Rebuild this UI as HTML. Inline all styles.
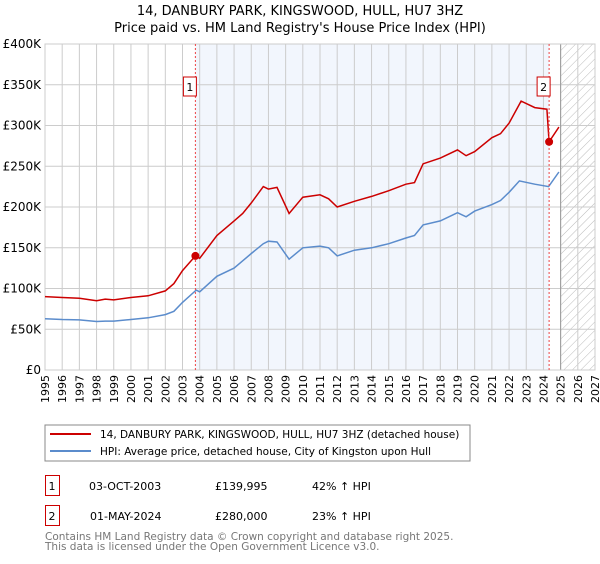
<!DOCTYPE html>
<html><head><meta charset="utf-8"><style>
body{margin:0;background:#fff;font-family:"DejaVu Sans","Liberation Sans",sans-serif;}
svg text{font-family:"DejaVu Sans","Liberation Sans",sans-serif;}
</style></head><body>
<svg id="c" width="600" height="560" xmlns="http://www.w3.org/2000/svg">
<defs><pattern id="hatch" width="6" height="6" patternUnits="userSpaceOnUse" patternTransform="rotate(45)"><line x1="0" y1="0" x2="0" y2="6" stroke="#bbb" stroke-width="1"/></pattern></defs>
<text x="300" y="15" text-anchor="middle" font-size="13">14, DANBURY PARK, KINGSWOOD, HULL, HU7 3HZ</text>
<text x="300" y="32" text-anchor="middle" font-size="13">Price paid vs. HM Land Registry's House Price Index (HPI)</text>
<g id="plot"></g>
<rect x="45" y="425" width="425" height="36" fill="#fff" stroke="#888"/>
<line x1="50" y1="434" x2="91" y2="434" stroke="#cc0000" stroke-width="2"/>
<text x="100" y="438" font-size="10.5">14, DANBURY PARK, KINGSWOOD, HULL, HU7 3HZ (detached house)</text>
<line x1="50" y1="451" x2="91" y2="451" stroke="#5b8ccc" stroke-width="2"/>
<text x="100" y="455" font-size="10.5">HPI: Average price, detached house, City of Kingston upon Hull</text>
<g>
<rect x="45.5" y="475.5" width="14" height="20" fill="none" stroke="#cc0000"/>
<text x="52" y="490" font-size="11" text-anchor="middle">1</text>
<text x="89" y="490" font-size="11">03-OCT-2003</text>
<text x="215" y="490" font-size="11">£139,995</text>
<text x="312" y="490" font-size="11">42% ↑ HPI</text></g>
<g>
<rect x="45.5" y="505.5" width="14" height="20" fill="none" stroke="#cc0000"/>
<text x="52" y="520" font-size="11" text-anchor="middle">2</text>
<text x="90" y="520" font-size="11">01-MAY-2024</text>
<text x="215" y="520" font-size="11">£280,000</text>
<text x="312" y="520" font-size="11">23% ↑ HPI</text></g>
<text x="45" y="540" font-size="10.5" fill="#777">Contains HM Land Registry data © Crown copyright and database right 2025.</text>
<text x="45" y="550" font-size="10.5" fill="#777">This data is licensed under the Open Government Licence v3.0.</text>
</svg>
<script>
const yTicks=[0,50,100,150,200,250,300,350,400];
const yTickLabels=["£0","£50K","£100K","£150K","£200K","£250K","£300K","£350K","£400K"];
const xYears=[1995,1996,1997,1998,1999,2000,2001,2002,2003,2004,2005,2006,2007,2008,2009,2010,2011,2012,2013,2014,2015,2016,2017,2018,2019,2020,2021,2022,2023,2024,2025,2026,2027];
const hpiT=[1995,1996,1997,1998,1998.5,1999,2000,2001,2002,2002.5,2003,2003.8,2004,2005,2006,2006.5,2007,2007.7,2008,2008.5,2009.2,2010,2011,2011.5,2012,2013,2014,2015,2016,2016.5,2017,2018,2019,2019.5,2020,2021,2021.5,2022,2022.6,2023.5,2024.3,2024.9];
const hpiV=[63,62,61.5,59.5,60,60,62,64,68,72,83,98,96,115,125,134,143,155,158,157,136,150,152,150,140,147,150,155,162,165,178,183,193,188,195,203,208,218,232,228,225,243];
const ppT=[1995,1996,1997,1998,1998.5,1999,2000,2001,2002,2002.5,2003,2003.75,2004,2005,2006,2006.5,2007,2007.7,2008,2008.5,2009.2,2010,2011,2011.5,2012,2013,2014,2015,2016,2016.5,2017,2018,2019,2019.5,2020,2021,2021.5,2022,2022.7,2023.5,2024.2,2024.33,2024.9];
const ppV=[90,89,88,85,87,86,89,91,97,106,122,140,137,165,183,192,205,225,222,224,192,212,215,210,200,207,213,220,228,230,253,260,270,263,268,285,290,303,330,322,320,280,298];
const sales=[[2003.75,140,"1"],[2024.33,280,"2"]];
const X0=45,X1=595,Y0=370,Y1=44;
const xs=t=>X0+(t-1995)*(X1-X0)/32;
const ys=v=>Y0-v*(Y0-Y1)/400;
const NS="http://www.w3.org/2000/svg";
const g=document.getElementById('plot');
function mk(tag,a,txt){const e=document.createElementNS(NS,tag);for(const k in a)e.setAttribute(k,a[k]);if(txt!==undefined)e.textContent=txt;g.appendChild(e);return e;}
let e;
e=mk('rect',{x:xs(2003.75),y:Y1,width:xs(2024.33)-xs(2003.75),height:Y0-Y1,fill:'#f2f6fd'});


e=mk('rect',{x:xs(2025),y:Y1,width:X1-xs(2025),height:Y0-Y1,fill:'url(#hatch)'});


xYears.forEach(yr=>{e=mk('line',{x1:xs(yr),x2:xs(yr),y1:Y1,y2:Y0,stroke:'#ccc'});


const t=mk('text',{x:0,y:0,'font-size':11,'text-anchor':'end',transform:`translate(${xs(yr)+4},${Y0+5}) rotate(-90)`},String(yr));

});
yTicks.forEach((v,i)=>{e=mk('line',{x1:X0,x2:X1,y1:ys(v),y2:ys(v),stroke:'#ccc'});


const t=mk('text',{x:X0-4,y:ys(v)+4,'font-size':12,'text-anchor':'end'},yTickLabels[i]);

});
e=mk('line',{x1:xs(2025),x2:xs(2025),y1:Y1,y2:Y0,stroke:'#999'});


e=mk('rect',{x:X0,y:Y1,width:X1-X0,height:Y0-Y1,fill:'none',stroke:'#ccc'});


const pts=(T,V)=>T.map((t,i)=>xs(t).toFixed(1)+','+ys(V[i]).toFixed(1)).join(' ');
e=mk('polyline',{points:pts(hpiT,hpiV),fill:'none',stroke:'#5b8ccc','stroke-width':1.5});


e=mk('polyline',{points:pts(ppT,ppV),fill:'none',stroke:'#cc0000','stroke-width':1.5});


sales.forEach(s=>{
e=mk('line',{x1:xs(s[0]),x2:xs(s[0]),y1:Y1,y2:Y0,stroke:'#e44','stroke-dasharray':'2,2'});


e=mk('circle',{cx:xs(s[0]),cy:ys(s[1]),r:4,fill:'#cc0000'});


e=mk('rect',{x:xs(s[0])-12,y:77,width:13,height:19,fill:'#fff',stroke:'#cc0000'});


e=mk('text',{x:xs(s[0])-5.5,y:91,'font-size':11,'text-anchor':'middle'},s[2]);


});
</script>
</body></html>
